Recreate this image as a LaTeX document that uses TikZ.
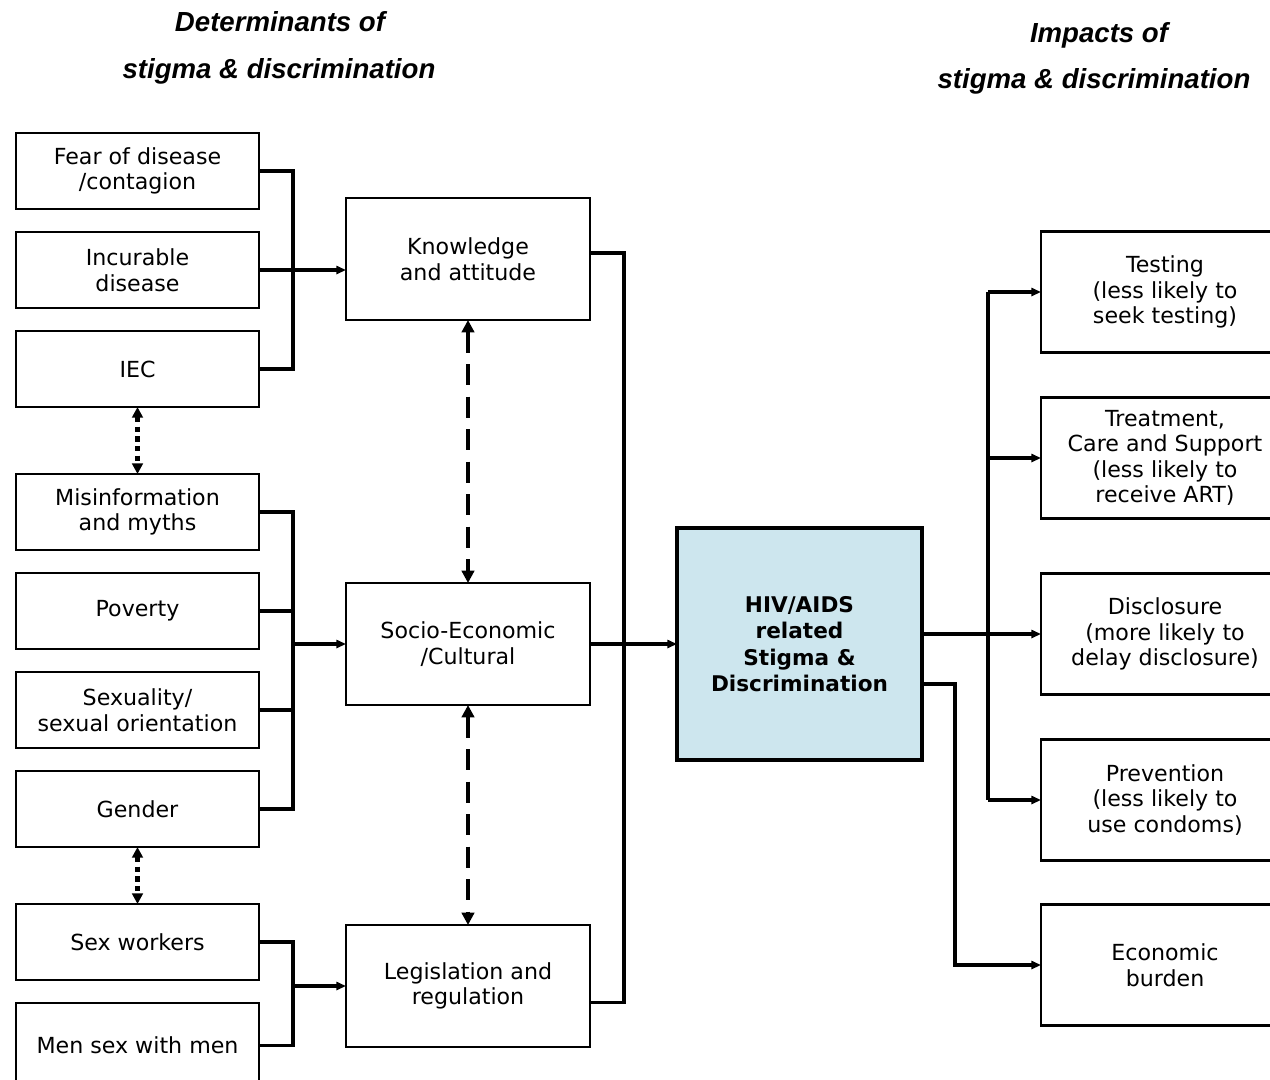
\documentclass[tikz,border=0pt]{standalone}
\usepackage{fontspec}
\setmainfont{DejaVu Sans}
\newfontfamily\headfont{Liberation Sans}
\usetikzlibrary{positioning, arrows.meta, calc}
\definecolor{hivblue}{RGB}{205,230,238}
\tikzset{
	>={Triangle[length=5.5pt,width=4.6pt]},
	every node/.style={font=\fontsize{12.6}{14.5}\selectfont},
	cause/.style={draw, line width=1.6pt, outer sep=0pt, minimum width=4.86cm, minimum height=1.52cm, align=center},
	factor/.style={cause, minimum width=4.88cm, minimum height=2.44cm},
	impact/.style={cause, minimum width=4.96cm, minimum height=2.42cm},
	core/.style={draw, line width=2.8pt, fill=hivblue, outer sep=0pt, minimum width=4.9cm, minimum height=4.64cm, align=center, font=\fontsize{12.3}{15.1}\selectfont\bfseries},
	heading/.style={anchor=base, font=\headfont\fontsize{15.7}{18}\selectfont\bfseries\itshape},
	link/.style={line width=1.8pt},
	dashlink/.style={arrows={Triangle[length=7pt,width=7pt]-Triangle[length=7pt,width=7pt]}, line width=2.8pt, dash pattern=on 12pt off 6.5pt},
	dotlink/.style={arrows={Triangle[length=6pt,width=6pt]-Triangle[length=6pt,width=6pt]}, line width=2.3pt, dash pattern=on 3pt off 2.5pt},
}
\begin{document}
\begin{tikzpicture}
	\useasboundingbox (0,0) rectangle (25.4,-21.58);
	% headings
	\node[heading] (headL1) at (5.6,-0.62) {Determinants of};
	\node[heading] (headL2) at (5.58,-1.56) {stigma \& discrimination};
	\node[heading] (headR1) at (21.98,-0.84) {Impacts of};
	\node[heading] (headR2) at (21.88,-1.76) {stigma \& discrimination};
	
	% determinants
	\node[cause] (fear) at (2.75,-3.42) {Fear of disease\\/contagion};
	\node[cause, below=0.46cm of fear] (incurable) {Incurable\\disease};
	\node[cause, below=0.46cm of incurable] (iec) {IEC};
	\node[cause, below=1.34cm of iec] (myths) {Misinformation\\and myths};
	\node[cause, below=0.46cm of myths] (poverty) {Poverty};
	\node[cause, below=0.46cm of poverty] (sexuality) {Sexuality/\\sexual orientation};
	\node[cause, below=0.46cm of sexuality] (gender) {Gender};
	\node[cause, below=1.14cm of gender] (sexwork) {Sex workers};
	\node[cause, below=0.46cm of sexwork, minimum height=1.7cm] (msm) {Men sex with men};
	
	% factors
	\node[factor] (knowledge) at (9.36,-5.18) {Knowledge\\and attitude};
	\node[factor, below=5.26cm of knowledge] (socio) {Socio-Economic\\/Cultural};
	\node[factor, below=4.4cm of socio] (legislation) {Legislation and\\regulation};
	
	% stigma
	\node[core, right=1.74cm of socio] (stigma) {HIV/AIDS\\related\\Stigma \&\\Discrimination};
	
	% impacts
	\node[impact] (testing) at (23.3,-5.84) {Testing\\(less likely to\\seek testing)};
	\node[impact, below=0.9cm of testing] (treatment) {Treatment,\\Care and Support\\(less likely to\\receive ART)};
	\node[impact, below=1.1cm of treatment] (disclosure) {Disclosure\\(more likely to\\delay disclosure)};
	\node[impact, below=0.9cm of disclosure] (prevention) {Prevention\\(less likely to\\use condoms)};
	\node[impact, below=0.88cm of prevention] (economic) {Economic\\burden};
	
	\coordinate (busA) at (5.86,0);
	\coordinate (busB) at (12.48,0);
	\coordinate (busC) at (19.76,0);
	\coordinate (busD) at (19.1,0);
	
	% left groups
	\draw[link] (fear.east) -- (busA |- fear.east) -- (busA |- iec.east) -- (iec.east);
	\draw[link, ->] (incurable.east) -- (knowledge.west |- incurable.east);
	\draw[link] (myths.east) -- (busA |- myths.east) -- (busA |- gender.east) -- (gender.east);
	\draw[link] (poverty.east) -- (busA |- poverty.east);
	\draw[link] (sexuality.east) -- (busA |- sexuality.east);
	\draw[link, ->] (busA |- socio.west) -- (socio.west);
	\draw[link] (sexwork.east) -- (busA |- sexwork.east) -- (busA |- msm.east) -- (msm.east);
	\draw[link, ->] (busA |- legislation.west) -- (legislation.west);
	
	% into stigma
	\draw[link] ([yshift=0.12cm]knowledge.east) -| ($(busB |- legislation.east)+(0,-0.33)$) -- ([yshift=-0.33cm]legislation.east);
	\draw[link, ->] (socio.east) -- (stigma.west);
	
	% out of stigma
	\draw[link, ->] (stigma.east |- disclosure.west) -- (disclosure.west);
	\draw[link] (busC |- testing.west) -- (busC |- prevention.west);
	\draw[link, ->] (busC |- testing.west) -- (testing.west);
	\draw[link, ->] (busC |- treatment.west) -- (treatment.west);
	\draw[link, ->] (busC |- prevention.west) -- (prevention.west);
	\draw[link, ->] ([yshift=-0.8cm]stigma.east) -| (busD |- economic.west) -- (economic.west);
	
	% two-way links
	\draw[dashlink] (knowledge.south) -- (socio.north);
	\draw[dashlink] (socio.south) -- (legislation.north);
	\draw[dotlink] (iec.south) -- (myths.north);
	\draw[dotlink] (gender.south) -- (sexwork.north);
\end{tikzpicture}
\end{document}
